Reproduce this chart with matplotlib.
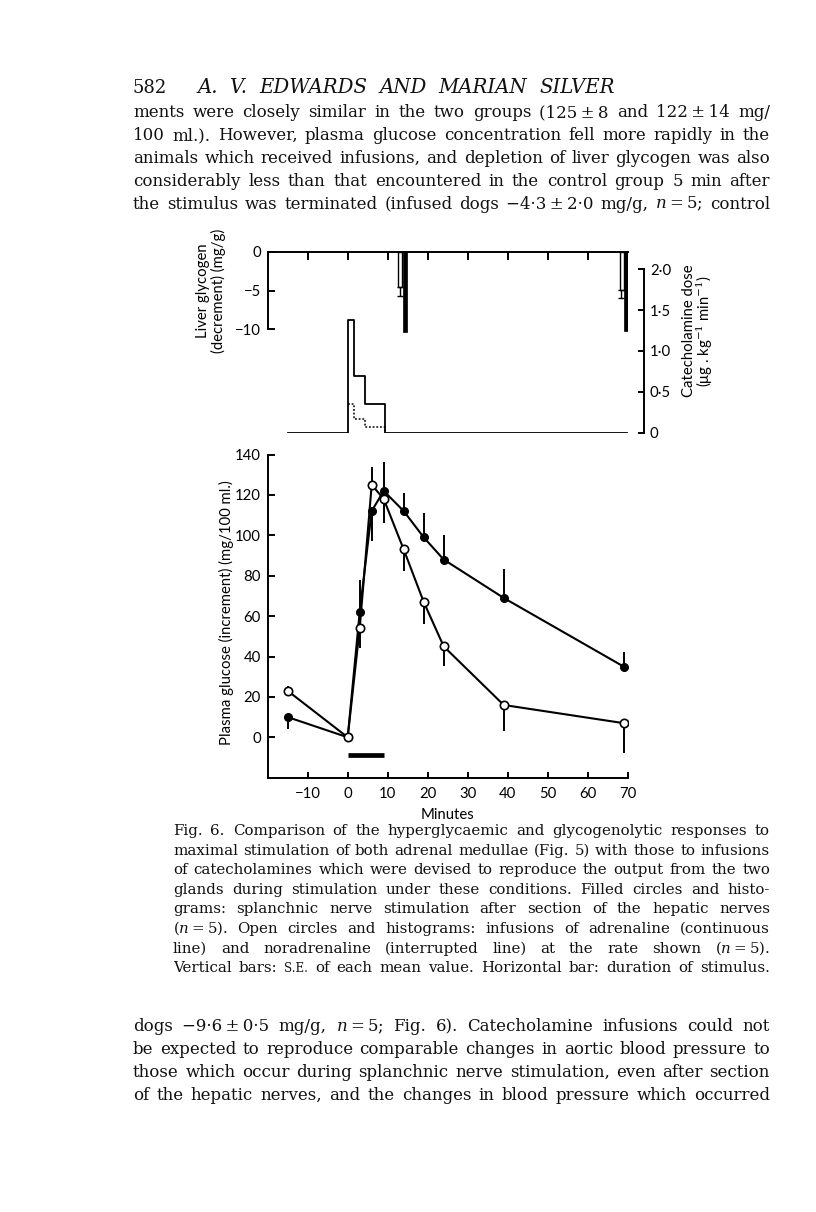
import matplotlib
matplotlib.use("Agg")
import matplotlib.pyplot as plt
from matplotlib.ticker import FixedLocator, FixedFormatter
import numpy as np

W, H = 816, 1212
SERIF = ["DejaVu Serif"]
SANS = ["Lato", "DejaVu Sans"]
plt.rcParams["mathtext.fontset"] = "dejavuserif"

# plasma glucose (increment), mg/100 ml
minutes = [-15, 0, 3, 6, 9, 14, 19, 24, 39, 69]
glucose_nerve = [10, 0, 62, 112, 122, 112, 99, 88, 69, 35]
glucose_infused = [23, 0, 54, 125, 118, 93, 67, 45, 16, 7]
# one-sided s.e. bars (signed: + up, - down)
se_nerve = [-6, 0, 16, -15, 14.5, 9, 12, 12, 14.5, 7]
se_infused = [2.5, 0, -10, 9, -12, -10.5, -11, -9.5, -13, -15]
stimulus = [0, 9]

# liver glycogen decrement, mg/g
glyc_t_infused = [13.15, 68.5]
glyc_infused = [-4.5, -4.9]
glyc_infused_se = [1.2, 1.0]
glyc_t_nerve = [14.3, 69.55]
glyc_nerve = [-10.3, -10.2]

# catecholamine dose, ug/kg/min
dose_t = [-15, 0, 1.5, 4.3, 9.2, 69.7]
dose_adrenaline = [0, 1.38, 0.69, 0.35, 0, 0]
dose_nor_t = [0, 1.5, 4.3, 9.2]
dose_noradrenaline = [0.35, 0.17, 0.07, 0]

# page text (\u2009 = thin space, kept inside one word)
header_num = "582"
header_title = "A. V. EDWARDS AND MARIAN SILVER"
body_top = [
    "ments were closely similar in the two groups (125\u2009±\u20098 and 122\u2009±\u200914 mg/",
    "100 ml.). However, plasma glucose concentration fell more rapidly in the",
    "animals which received infusions, and depletion of liver glycogen was also",
    "considerably less than that encountered in the control group 5 min after",
    "the stimulus was terminated (infused dogs \u22124·3\u2009±\u20092·0 mg/g, $n$\u2009=\u20095; control",
]
caption = [
    "Fig. 6. Comparison of the hyperglycaemic and glycogenolytic responses to",
    "maximal stimulation of both adrenal medullae (Fig. 5) with those to infusions",
    "of catecholamines which were devised to reproduce the output from the two",
    "glands during stimulation under these conditions. Filled circles and histo-",
    "grams: splanchnic nerve stimulation after section of the hepatic nerves",
    "($n$\u2009=\u20095). Open circles and histograms: infusions of adrenaline (continuous",
    "line) and noradrenaline (interrupted line) at the rate shown ($n$\u2009=\u20095).",
    "Vertical bars: S.E. of each mean value. Horizontal bar: duration of stimulus.",
]
body_bottom = [
    "dogs \u22129·6\u2009±\u20090·5 mg/g, $n$\u2009=\u20095; Fig. 6). Catecholamine infusions could not",
    "be expected to reproduce comparable changes in aortic blood pressure to",
    "those which occur during splanchnic nerve stimulation, even after section",
    "of the hepatic nerves, and the changes in blood pressure which occurred",
]
SMALL_CAPS = {"S.E."}

fig = plt.figure(figsize=(W / 100, H / 100), dpi=100)
fig.patch.set_facecolor("white")
renderer = fig.canvas.get_renderer()


def add_ax(left, top, right, bottom):
    return fig.add_axes([left / W, 1 - bottom / H, (right - left) / W, (bottom - top) / H])


def word_size(w, size):
    return size * 0.78 if w in SMALL_CAPS else size


def natural_width(line, size, style="normal"):
    t = fig.text(0, 0, line, fontsize=size, family=SERIF, style=style)
    w = t.get_window_extent(renderer).width
    t.remove()
    return w


def fit_size(lines, width, style="normal", fill=0.99):
    widest = max(natural_width(l, 10, style) for l in lines)
    return 10 * width * fill / widest


def put_line(line, x0, x1, y, size, style="normal"):
    words = line.split(" ")
    arts = [fig.text(x0 / W, 1 - y / H, w, fontsize=word_size(w, size), family=SERIF,
                     style=style, va="baseline", color="#111111") for w in words]
    widths = [a.get_window_extent(renderer).width for a in arts]
    gap = (x1 - x0 - sum(widths)) / max(len(words) - 1, 1)
    x = x0
    for a, w in zip(arts, widths):
        a.set_x(x / W)
        x += w + gap


LW = 1.5
FS = 10.7

# ---- lower panel: plasma glucose ----
ax = add_ax(267.7, 454.5, 627.7, 777.7)
ax.set_xlim(-20, 70)
ax.set_ylim(-20, 140)
for s in ["top", "right"]:
    ax.spines[s].set_visible(False)
for s in ["left", "bottom"]:
    ax.spines[s].set_linewidth(1.4)
ax.set_xticks(range(-10, 80, 10))
ax.set_yticks(range(0, 160, 20))
ax.tick_params(direction="in", width=1.4, labelsize=FS)
ax.tick_params(axis="y", length=5, pad=5)
ax.tick_params(axis="x", length=4, pad=7)
for lab in ax.get_xticklabels() + ax.get_yticklabels():
    lab.set_family(SANS)

ax.vlines(minutes, glucose_nerve, np.add(glucose_nerve, se_nerve), color="k", lw=1.4, zorder=1)
ax.vlines(minutes, glucose_infused, np.add(glucose_infused, se_infused), color="k", lw=1.4, zorder=1)
ax.plot(minutes, glucose_nerve, "-o", color="k", lw=LW, ms=5.5, mfc="k", mec="k", zorder=2)
ax.plot(minutes, glucose_infused, "-o", color="k", lw=LW, ms=6, mfc="white", mec="k", mew=1.2, zorder=3)
ax.plot(stimulus, [-9, -9], color="k", lw=3.4, solid_capstyle="butt")

ax.set_xlabel("Minutes", family=SANS, fontsize=FS, labelpad=5)
fig.text(226.5 / W, 1 - 613 / H, "Plasma glucose (increment) (mg/100 ml.)", rotation=90,
         ha="center", va="center", family=SANS, fontsize=FS)

# ---- upper panel: liver glycogen + catecholamine dose ----
ag = add_ax(267.7, 251.7, 627.7, 432.7)
ag.set_xlim(-20, 70)
ag.set_ylim(-23.3, 0)
ag.patch.set_alpha(0)
for s in ["bottom", "right"]:
    ag.spines[s].set_visible(False)
ag.spines["top"].set_linewidth(1.4)
ag.spines["left"].set_linewidth(1.4)
ag.spines["left"].set_bounds(-10, 0)
ag.xaxis.tick_top()
ag.set_xticks(range(-10, 70, 10))
ag.tick_params(axis="x", direction="in", length=5.5, width=1.4, labeltop=False)
ag.set_yticks([0, -5, -10])
ag.set_yticklabels(["0", "\u22125", "\u221210"], family=SANS)
ag.tick_params(axis="y", direction="in", length=5, width=1.4, pad=5, labelsize=FS)

ag.bar(glyc_t_infused, glyc_infused, width=0.95, color="white", edgecolor="k", lw=1.0, zorder=2)
ag.errorbar(np.subtract(glyc_t_infused, 0.15), glyc_infused, yerr=[glyc_infused_se, [0, 0]],
            fmt="none", ecolor="k", elinewidth=1.0, capsize=2.5, capthick=1.0, zorder=2)
ag.bar(glyc_t_nerve, glyc_nerve, width=1.15, color="k", edgecolor="k", lw=0.5, zorder=3)

fig.text(203 / W, 1 - 291 / H, "Liver glycogen", rotation=90, ha="center", va="center",
         family=SANS, fontsize=FS)
fig.text(218 / W, 1 - 291 / H, "(decrement) (mg/g)", rotation=90, ha="center", va="center",
         family=SANS, fontsize=FS)

ad = ag.twinx()
ad.set_ylim(0, 2.215)
for s in ["top", "bottom", "left"]:
    ad.spines[s].set_visible(False)
ad.spines["right"].set_position(("axes", 1 + 16.6 / 360))
ad.spines["right"].set_bounds(0, 2)
ad.spines["right"].set_linewidth(1.4)
ad.yaxis.set_major_locator(FixedLocator([0, 0.5, 1.0, 1.5, 2.0]))
ad.yaxis.set_major_formatter(FixedFormatter(["0", "0·5", "1·0", "1·5", "2·0"]))
ad.tick_params(axis="y", direction="in", length=4, width=1.4, pad=4, labelsize=FS)
for lab in ad.get_yticklabels():
    lab.set_family(SANS)

ad.plot(dose_t, dose_adrenaline, drawstyle="steps-post", color="k", lw=1.3)
ad.plot(dose_nor_t, dose_noradrenaline, drawstyle="steps-post", color="k", lw=1.1,
        linestyle=(0, (1.2, 1.2)))

fig.text(689 / W, 1 - 331 / H, "Catecholamine dose", rotation=90, ha="center", va="center",
         family=SANS, fontsize=FS)
fig.text(705 / W, 1 - 331 / H, "(\u03bcg . kg$^{-1}$ min$^{-1}$)", rotation=90,
         ha="center", va="center", family=SANS, fontsize=FS)

# ---- page text ----
fig.text(133 / W, 1 - 93 / H, header_num, family=SERIF, fontsize=13, va="baseline", color="#111111")
put_line(header_title, 197, 615, 93, fit_size([header_title], 418, "italic", 0.93), style="italic")
s_body = fit_size(body_top + body_bottom, 637)
for i, line in enumerate(body_top):
    put_line(line, 133, 770, 117 + i * 22.9, s_body)
s_cap = fit_size(caption, 597)
for i, line in enumerate(caption):
    put_line(line, 173, 770, 835 + i * 19.6, s_cap)
for i, line in enumerate(body_bottom):
    put_line(line, 133, 770, 1031 + i * 23, s_body)

fig.savefig("out.png", dpi=100, facecolor="white")
